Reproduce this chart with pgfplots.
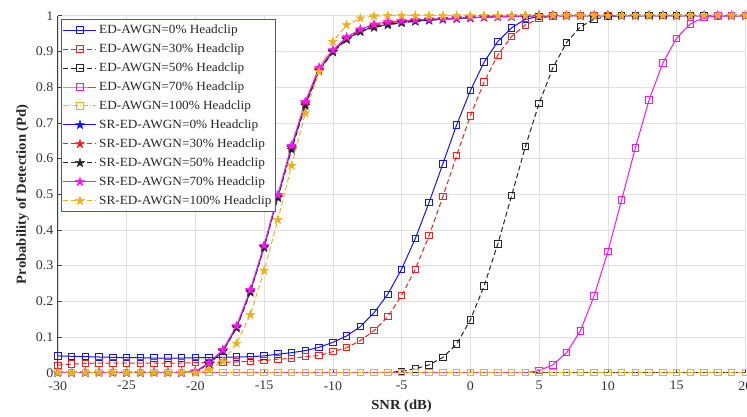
\documentclass[border=0pt]{standalone}
\usepackage{pgfplots}
\pgfplotsset{compat=1.18}
\usepackage{pgfplotstable}
\usepackage{fontspec}
\setmainfont{Liberation Serif}
\newfontfamily\wideserif{Liberation Serif}[FakeStretch=1.06]
\definecolor{mblue}{RGB}{20,20,250}
\definecolor{mred}{RGB}{250,30,30}
\definecolor{mmag}{RGB}{250,20,250}
\definecolor{morange}{RGB}{237,177,32}
\definecolor{legbord}{RGB}{70,90,130}
\pgfdeclareplotmark{pstar}{%
  \pgfpathmoveto{\pgfpoint{0pt}{\pgfplotmarksize}}%
  \pgfpathlineto{\pgfpoint{-0.2245\pgfplotmarksize}{0.309\pgfplotmarksize}}%
  \pgfpathlineto{\pgfpoint{-0.951\pgfplotmarksize}{0.309\pgfplotmarksize}}%
  \pgfpathlineto{\pgfpoint{-0.363\pgfplotmarksize}{-0.118\pgfplotmarksize}}%
  \pgfpathlineto{\pgfpoint{-0.588\pgfplotmarksize}{-0.809\pgfplotmarksize}}%
  \pgfpathlineto{\pgfpoint{0pt}{-0.382\pgfplotmarksize}}%
  \pgfpathlineto{\pgfpoint{0.588\pgfplotmarksize}{-0.809\pgfplotmarksize}}%
  \pgfpathlineto{\pgfpoint{0.363\pgfplotmarksize}{-0.118\pgfplotmarksize}}%
  \pgfpathlineto{\pgfpoint{0.951\pgfplotmarksize}{0.309\pgfplotmarksize}}%
  \pgfpathlineto{\pgfpoint{0.2245\pgfplotmarksize}{0.309\pgfplotmarksize}}%
  \pgfpathclose
  \pgfusepathqfillstroke}
\pgfplotstableread{
x ed0 ed30 ed50 ed70 ed100 sr0 sr30 sr50 sr70 sr100
-30 0.047 0.021 0 0 0 0 0 0 0 0
-29 0.046 0.024 0 0 0 0 0 0 0 0
-28 0.045 0.026 0 0 0 0 0 0 0 0
-27 0.044 0.027 0 0 0 0 0 0 0 0
-26 0.043 0.027 0 0 0 0 0 0 0 0
-25 0.042 0.027 0 0 0 0 0 0 0 0
-24 0.042 0.027 0 0 0 0 0 0 0 0
-23 0.041 0.027 0 0 0 0 0 0 0 0
-22 0.041 0.027 0 0 0 0 0 0 0 0
-21 0.041 0.027 0 0 0 0 0 0 0 0
-20 0.042 0.028 0 0 0 0.003 0.003 0.002 0.003 0
-19 0.042 0.028 0 0 0 0.026 0.027 0.025 0.028 0.008
-18 0.043 0.029 0 0 0 0.061 0.063 0.060 0.064 0.032
-17 0.044 0.030 0 0 0 0.127 0.129 0.125 0.131 0.082
-16 0.045 0.032 0 0 0 0.228 0.230 0.225 0.232 0.162
-15 0.047 0.034 0 0 0 0.352 0.354 0.350 0.356 0.286
-14 0.052 0.038 0 0 0 0.493 0.495 0.490 0.498 0.428
-13 0.056 0.040 0 0 0 0.630 0.633 0.625 0.636 0.580
-12 0.062 0.045 0 0 0 0.752 0.755 0.748 0.759 0.727
-11 0.071 0.048 0 0 0 0.848 0.850 0.845 0.855 0.843
-10 0.085 0.059 0 0 0 0.900 0.902 0.898 0.904 0.927
-9 0.103 0.070 0 0 0 0.935 0.937 0.933 0.940 0.974
-8 0.129 0.090 0 0 0 0.957 0.959 0.955 0.962 0.993
-7 0.168 0.118 0 0 0 0.969 0.972 0.967 0.976 0.999
-6 0.220 0.157 0.001 0 0 0.976 0.979 0.974 0.983 1
-5 0.290 0.216 0.004 0 0 0.981 0.984 0.980 0.986 1
-4 0.376 0.290 0.011 0 0 0.985 0.987 0.984 0.988 1
-3 0.477 0.384 0.022 0 0 0.988 0.989 0.987 0.990 1
-2 0.585 0.493 0.043 0 0 0.990 0.991 0.990 0.992 1
-1 0.694 0.608 0.080 0 0 0.992 0.993 0.992 0.993 1
0 0.790 0.719 0.148 0 0 0.994 0.995 0.994 0.995 1
1 0.870 0.814 0.243 0 0 0.996 0.996 0.996 0.996 1
2 0.928 0.890 0.361 0 0 0.997 0.997 0.997 0.997 1
3 0.966 0.942 0.496 0 0 0.998 0.998 0.998 0.998 1
4 0.990 0.974 0.633 0 0 0.999 0.999 0.999 0.999 1
5 0.998 0.993 0.755 0.006 0 1 1 1 1 1
6 1 0.999 0.854 0.022 0 1 1 1 1 1
7 1 1 0.925 0.056 0 1 1 1 1 1
8 1 1 0.969 0.117 0 1 1 1 1 1
9 1 1 0.990 0.215 0 1 1 1 1 1
10 1 1 0.998 0.339 0 1 1 1 1 1
11 1 1 1 0.484 0 1 1 1 1 1
12 1 1 1 0.630 0 1 1 1 1 1
13 1 1 1 0.764 0 1 1 1 1 1
14 1 1 1 0.868 0 1 1 1 1 1
15 1 1 1 0.937 0 1 1 1 1 1
16 1 1 1 0.977 0 1 1 1 1 1
17 1 1 1 0.995 0 1 1 1 1 1
18 1 1 1 0.999 0 1 1 1 1 1
19 1 1 1 1 0 1 1 1 1 1
20 1 1 1 1 0 1 1 1 1 1
}\datatab
\begin{document}
\begin{tikzpicture}
\begin{axis}[
  scale only axis,
  width=687.6pt, height=357pt,
  xmin=-30, xmax=20, ymin=0, ymax=1,
  xtick={-30,-25,...,20},
  ytick={0,0.1,...,1.01},
  axis x line*=bottom, axis y line*=left,
  axis line style={black!75, line width=0.6pt},
  tick style={black!75, line width=0.6pt},
  tick align=inside,
  major tick length=4pt,
  grid=major,
  major grid style={black!12, line width=0.5pt},
  /pgf/number format/assume math mode=true,
  ticklabel style={font=\wideserif\fontsize{13.2}{15}\selectfont, text=black!80},
  xticklabel style={yshift=-5pt},
  yticklabel style={xshift=-1pt},
  xlabel={\textbf{SNR (dB)}},
  ylabel={\textbf{Probability of Detection (Pd)}},
  label style={font=\wideserif\fontsize{13.8}{15}\selectfont, text=black!85},
  xlabel style={yshift=-3pt},
  ylabel style={yshift=0pt},
  legend cell align=left,
  legend style={at={(0,1)}, anchor=north west, xshift=3.3pt, yshift=-3.3pt,
    draw=legbord, line width=0.8pt, font=\wideserif\fontsize{12.5}{14}\selectfont,
    inner xsep=1.5pt, inner ysep=1.2pt,
    nodes={inner xsep=2.2pt, inner ysep=4.4pt, text=black!85}},
  legend image code/.code={
    \draw[mark repeat=2,mark phase=2,#1] plot coordinates {(0pt,0pt) (16.5pt,0pt) (33pt,0pt)};},
  every axis plot/.append style={line width=1pt},
  sq/.style={mark=square, mark size=3.2pt, mark options={solid, line width=0.9pt}},
  st/.style={mark=pstar, mark size=4.6pt, mark options={solid, fill=#1, line width=0.5pt}},
]
\addplot[mblue, sq] table[x=x,y=ed0]{\datatab};
\addlegendentry{ED-AWGN=0\% Headclip}
\addplot[mred, dash pattern=on 5pt off 3pt, sq] table[x=x,y=ed30]{\datatab};
\addlegendentry{ED-AWGN=30\% Headclip}
\addplot[black!85, dash pattern=on 5pt off 3pt, sq] table[x=x,y=ed50]{\datatab};
\addlegendentry{ED-AWGN=50\% Headclip}
\addplot[mmag, sq] table[x=x,y=ed70]{\datatab};
\addlegendentry{ED-AWGN=70\% Headclip}
\addplot[morange, dash pattern=on 5pt off 2pt on 1pt off 2pt, sq] table[x=x,y=ed100]{\datatab};
\addlegendentry{ED-AWGN=100\% Headclip}
\addplot[mblue, st=mblue] table[x=x,y=sr0]{\datatab};
\addlegendentry{SR-ED-AWGN=0\% Headclip}
\addplot[mred, dash pattern=on 5pt off 3pt, st=mred] table[x=x,y=sr30]{\datatab};
\addlegendentry{SR-ED-AWGN=30\% Headclip}
\addplot[black!85, dash pattern=on 5pt off 3pt, st=black!85] table[x=x,y=sr50]{\datatab};
\addlegendentry{SR-ED-AWGN=50\% Headclip}
\addplot[mmag, st=mmag] table[x=x,y=sr70]{\datatab};
\addlegendentry{SR-ED-AWGN=70\% Headclip}
\addplot[morange, dash pattern=on 5pt off 3pt, st=morange] table[x=x,y=sr100]{\datatab};
\addlegendentry{SR-ED-AWGN=100\% Headclip}
\end{axis}
\pgfresetboundingbox
\path ([xshift=-57.8pt,yshift=-43.3pt]current axis.south west) rectangle ([xshift=1.6pt,yshift=15.7pt]current axis.north east);
\end{tikzpicture}
\end{document}
